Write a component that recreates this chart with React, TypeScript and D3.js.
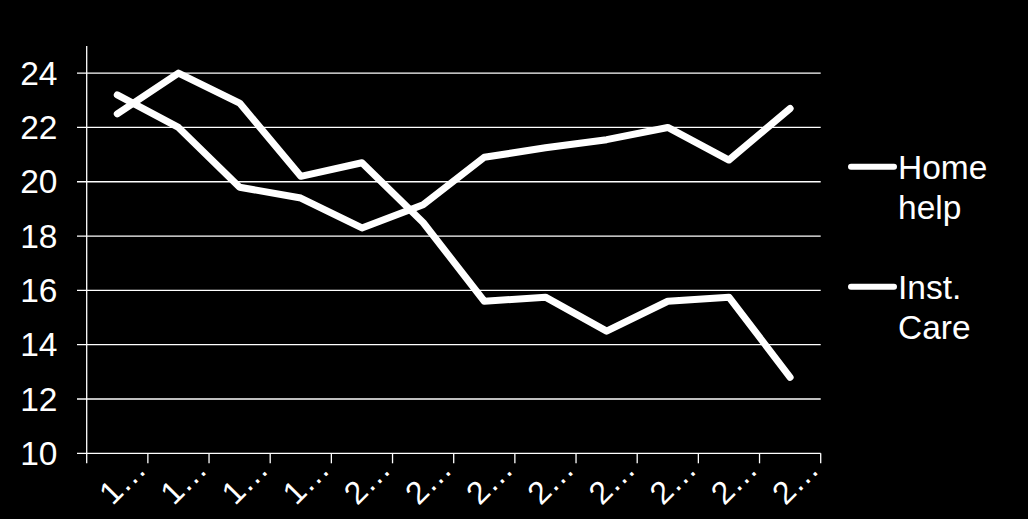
import React from "react";
import * as d3 from "d3";

const categories = ["1…", "1…", "1…", "1…", "2…", "2…", "2…", "2…", "2…", "2…", "2…", "2…"];
const homeHelp = [22.5, 24.0, 22.9, 20.2, 20.7, 18.5, 15.6, 15.75, 14.5, 15.6, 15.75, 12.8];
const instCare = [23.2, 22.0, 19.8, 19.4, 18.3, 19.15, 20.9, 21.25, 21.55, 22.0, 20.8, 22.7];
const yTicks = [10, 12, 14, 16, 18, 20, 22, 24];
const seriesNames = ["Home help", "Inst. Care"];
const legendLines = [["Home", "help"], ["Inst.", "Care"]];

const W = 1028;
const H = 519;
const FONT = "'Liberation Sans', Arial, Helvetica, sans-serif";

export default function App() {
  const left = 86.7;
  const right = 820.7;
  const top = 46;
  const bottom = 453.3;
  const idx = categories.map((_, i) => i);
  const x = d3.scaleBand<number>().domain(idx).range([left, right]).padding(0);
  const y = d3.scaleLinear().domain([10, 25]).range([bottom, top]);
  const cx = (i: number) => (x(i) as number) + x.bandwidth() / 2;
  const line = d3
    .line<number>()
    .x((_, i) => cx(i))
    .y((v) => y(v));
  const series = [homeHelp, instCare];
  const legendY = [166.7, 286.7];

  return (
    <svg
      width={W}
      height={H}
      style={{ position: "absolute", left: 0, top: 0, display: "block" }}
      fontFamily={FONT}
    >
      <rect x={0} y={0} width={W} height={H} fill="#000" />
      {yTicks.map((t) => (
        <g key={t}>
          <line x1={77} x2={right} y1={y(t)} y2={y(t)} stroke="#fff" strokeWidth={1.3} />
          <text
            x={57.5}
            y={y(t)}
            dy="0.35em"
            textAnchor="end"
            fill="#fff"
            fontSize={33.5}
          >
            {t}
          </text>
        </g>
      ))}
      <line x1={left} x2={left} y1={top} y2={bottom + 10} stroke="#fff" strokeWidth={1.3} />
      {idx.map((i) => (
        <line
          key={"t" + i}
          x1={(x(i) as number) + x.bandwidth()}
          x2={(x(i) as number) + x.bandwidth()}
          y1={bottom}
          y2={bottom + 10}
          stroke="#fff"
          strokeWidth={1.3}
        />
      ))}
      {categories.map((c, i) => (
        <text
          key={"l" + i}
          transform={`translate(${cx(i) + 30.5},${471}) rotate(-45)`}
          textAnchor="end"
          fill="#fff"
          fontSize={32}
        >
          {c}
        </text>
      ))}
      {series.map((s, k) => (
        <path
          key={seriesNames[k]}
          d={line(s) as string}
          fill="none"
          stroke="#fff"
          strokeWidth={7}
          strokeLinecap="round"
          strokeLinejoin="round"
        />
      ))}
      {seriesNames.map((n, k) => (
        <g key={"lg" + n}>
          <line
            x1={851}
            x2={894}
            y1={legendY[k]}
            y2={legendY[k]}
            stroke="#fff"
            strokeWidth={6}
            strokeLinecap="round"
          />
          {legendLines[k].map((t, j) => (
            <text
              key={t}
              x={898}
              y={legendY[k] + 12 + j * 40}
              fill="#fff"
              fontSize={33.5}
            >
              {t}
            </text>
          ))}
        </g>
      ))}
    </svg>
  );
}
